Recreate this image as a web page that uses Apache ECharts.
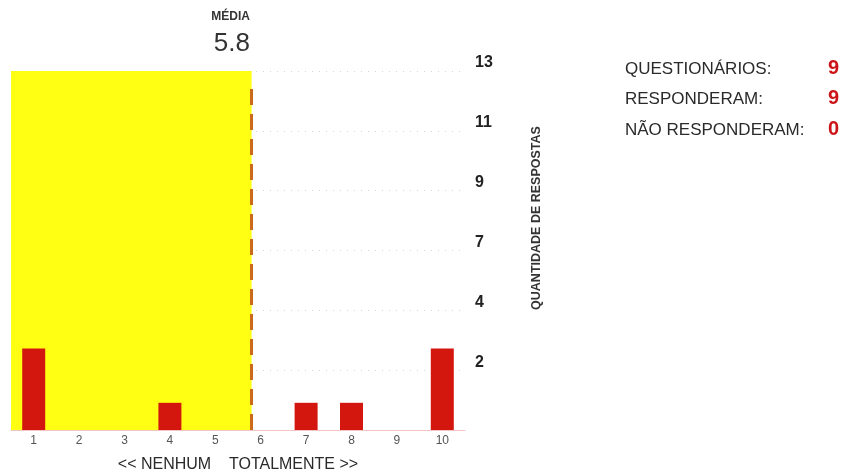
<!DOCTYPE html>
<html>
<head>
<meta charset="utf-8">
<script src="https://cdn.jsdelivr.net/npm/echarts@6/dist/echarts.min.js"></script>
<style>
html,body{margin:0;padding:0;background:#fff;}
#chart{width:845px;height:474px;}
</style>
</head>
<body>
<div id="chart"></div>
<script>
const categories = ['1','2','3','4','5','6','7','8','9','10'];
const responses = [3, 0, 0, 1, 0, 0, 1, 1, 0, 3];
const meanValue = [5.8];
const yTickLabels = ['2','4','7','9','11','13'];
const yStep = [2.2];
const summaryLabels = ['QUESTIONÁRIOS:', 'RESPONDERAM:', 'NÃO RESPONDERAM:'];
const summaryValues = [9, 9, 0];

const FONT = '"Liberation Sans", Arial, sans-serif';
const yMax = yStep[0] * yTickLabels.length;

const chart = echarts.init(document.getElementById('chart'), null, {renderer: 'canvas'});

const graphics = [
  {type: 'text', right: 845 - 250, top: 11, style: {text: 'MÉDIA', font: 'bold 12px ' + FONT, fill: '#333', textAlign: 'right'}},
  {type: 'text', right: 845 - 250, top: 31, style: {text: String(meanValue[0]), font: '26px ' + FONT, fill: '#333', textAlign: 'right'}},
  {type: 'text', x: 537, y: 218, rotation: Math.PI / 2, style: {text: 'QUANTIDADE DE RESPOSTAS', font: 'bold 12.5px ' + FONT, fill: '#333', textAlign: 'center', textVerticalAlign: 'middle'}}
];
const rowY = [69, 99, 130];
summaryLabels.forEach((t, i) => {
  graphics.push({type: 'text', x: 625, y: rowY[i], style: {text: t, font: '17px ' + FONT, fill: '#2a2a2a', textVerticalAlign: 'middle'}});
  graphics.push({type: 'text', x: 828, y: rowY[i] - 1, style: {text: String(summaryValues[i]), font: 'bold 20px ' + FONT, fill: '#cc1418', textVerticalAlign: 'middle'}});
});

chart.setOption({
  animation: false,
  backgroundColor: '#fff',
  grid: {left: 11, top: 71, width: 454, height: 359, containLabel: false, outerBoundsMode: 'none'},
  xAxis: [
    {
      type: 'category',
      data: categories,
      boundaryGap: true,
      axisLine: {show: true, lineStyle: {color: '#f2c4c4', width: 1}},
      axisTick: {show: false},
      axisLabel: {color: '#555', fontSize: 12, fontFamily: FONT, margin: 5},
      splitLine: {show: false},
      name: '<< NENHUM    TOTALMENTE >>',
      nameLocation: 'middle',
      nameGap: 27,
      nameTextStyle: {color: '#2a2a2a', fontSize: 16, fontFamily: FONT}
    },
    {
      type: 'value', min: 0.5, max: 10.5, show: false
    }
  ],
  yAxis: {
    type: 'value',
    position: 'right',
    min: 0,
    max: yMax,
    interval: yStep[0],
    axisLine: {show: false},
    axisTick: {show: false},
    axisLabel: {
      color: '#222', fontSize: 16, fontWeight: 'bold', fontFamily: FONT, margin: 10,
      verticalAlign: 'bottom',
      formatter: function (v) {
        const idx = Math.round(v / yStep[0]);
        return idx === 0 ? '' : (yTickLabels[idx - 1] || '');
      }
    },
    splitLine: {show: true, lineStyle: {color: '#d6d6d6', type: [1, 6], width: 1}}
  },
  series: [
    {
      type: 'line',
      xAxisIndex: 1,
      data: [[meanValue[0], 0]],
      symbol: 'none',
      lineStyle: {opacity: 0},
      silent: true,
      z: 1,
      markArea: {
        silent: true,
        z: 1,
        itemStyle: {color: '#ffff14', opacity: 1},
        data: [[{xAxis: 0.5, yAxis: 0}, {xAxis: meanValue[0], yAxis: yMax}]]
      },
      markLine: {
        silent: true,
        symbol: 'none',
        label: {show: false},
        z: 5,
        lineStyle: {color: '#cc6a1c', width: 3, type: [16, 9]},
        data: [[{xAxis: meanValue[0], yAxis: 0}, {xAxis: meanValue[0], yAxis: yMax * 0.97}]]
      }
    },
    {
      type: 'bar',
      data: responses,
      barWidth: 23,
      z: 3,
      itemStyle: {color: '#d3170f'}
    }
  ],
  graphic: graphics
});
</script>
</body>
</html>
